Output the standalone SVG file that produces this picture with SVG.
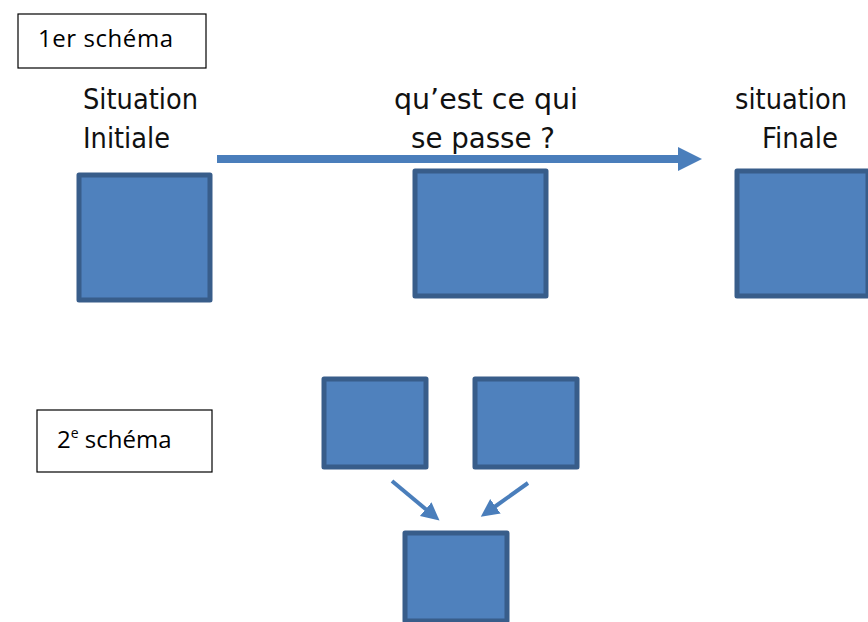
<svg xmlns="http://www.w3.org/2000/svg" width="868" height="622" viewBox="0 0 868 622">
<style>
.sq{fill:#4F81BD;stroke:#385D8A;stroke-width:5;stroke-linejoin:round}
.lbl{fill:#fff;stroke:#000;stroke-width:1.2}
.t{font-family:"DejaVu Sans","Liberation Sans",sans-serif;font-size:28px;fill:#111}
.s{font-family:"Open Sans","Liberation Sans",sans-serif;font-size:24px;fill:#000}
.c{stroke:#4A7EBB;stroke-width:4;fill:none}
</style>
<defs>
<marker id="ah" markerUnits="userSpaceOnUse" markerWidth="26" markerHeight="26" viewBox="0 0 26 26" refX="4" refY="13" orient="auto">
<path d="M0,1 L24,13 L0,25 Z" fill="#4A7EBB"/>
</marker>
<marker id="ah2" markerUnits="userSpaceOnUse" markerWidth="20" markerHeight="20" viewBox="0 0 20 20" refX="3" refY="10" orient="auto">
<path d="M0,1 L18,10 L0,19 Z" fill="#4A7EBB"/>
</marker>
</defs>
<g id="label1"><rect class="lbl" x="18" y="14" width="188" height="54"/><text class="s" x="38" y="47" textLength="135">1er schéma</text></g>
<g id="label2"><rect class="lbl" x="37" y="410" width="175" height="62"/><text class="s" x="57" y="448">2<tspan font-size="14" dy="-10">e</tspan><tspan dy="10"> schéma</tspan></text></g>
<g id="initiale"><text class="t" x="83" y="109" textLength="115" lengthAdjust="spacingAndGlyphs">Situation</text><text class="t" x="83" y="148" textLength="87" lengthAdjust="spacingAndGlyphs">Initiale</text><rect class="sq" x="79" y="175" width="131" height="125"/></g>
<g id="milieu"><text class="t" x="394" y="109" textLength="184" lengthAdjust="spacingAndGlyphs">qu’est ce qui</text><text class="t" x="411" y="148" textLength="144" lengthAdjust="spacingAndGlyphs">se passe ?</text><rect class="sq" x="415" y="171" width="131" height="125"/></g>
<g id="finale"><text class="t" x="735" y="109" textLength="112" lengthAdjust="spacingAndGlyphs">situation</text><text class="t" x="762" y="148" textLength="76" lengthAdjust="spacingAndGlyphs">Finale</text><rect class="sq" x="737" y="171" width="131" height="125"/></g>
<g id="haut-gauche"><rect class="sq" x="324" y="379" width="102" height="88"/></g>
<g id="haut-droite"><rect class="sq" x="475" y="379" width="102" height="88"/></g>
<g id="bas"><rect class="sq" x="405" y="533" width="102" height="88"/></g>
<g id="connectors">
<line x1="217" y1="159" x2="682" y2="159" stroke="#4A7EBB" stroke-width="8" marker-end="url(#ah)"/>
<line class="c" x1="392" y1="481" x2="428" y2="511" marker-end="url(#ah2)"/>
<line class="c" x1="528" y1="483" x2="493" y2="508" marker-end="url(#ah2)"/>
</g>
</svg>
